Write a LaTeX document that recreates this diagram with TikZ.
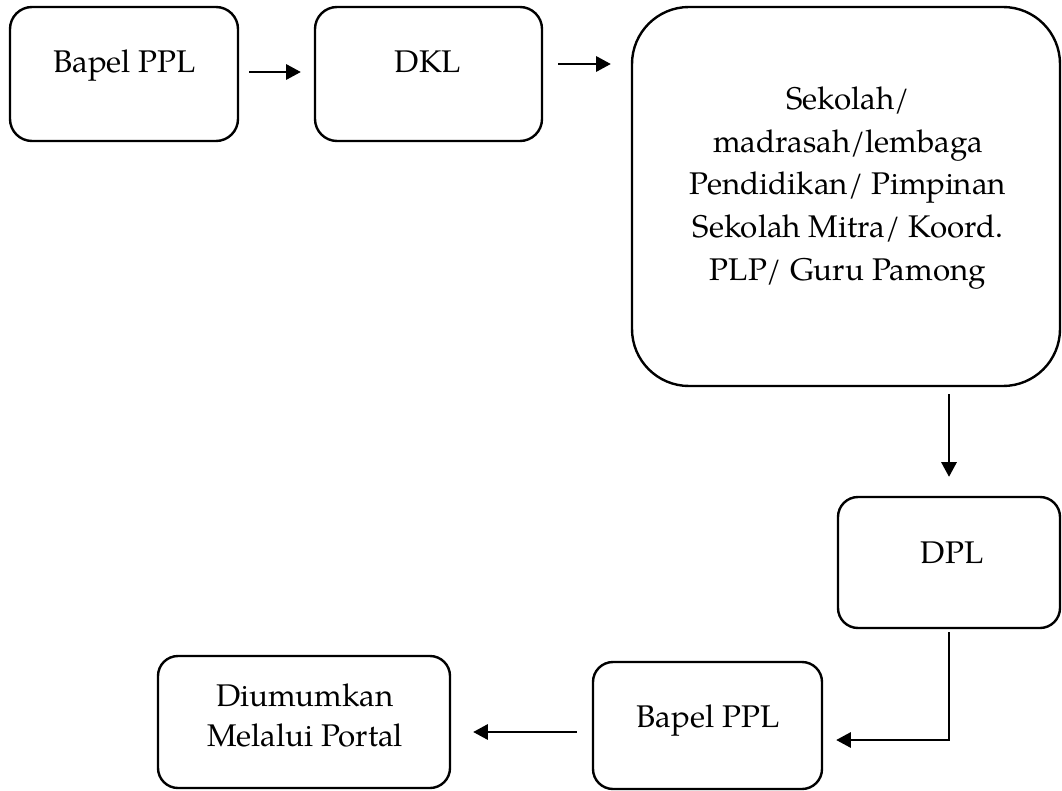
\documentclass[tikz,border=0pt]{standalone}
\usepackage{fontspec}
\setmainfont{TeX Gyre Pagella}
\usetikzlibrary{arrows.meta,calc}
\begin{document}
\begin{tikzpicture}[x=0.75pt,y=-0.75pt,
  box/.style={draw, line width=1.8pt, inner sep=0pt},
  arr/.style={line width=1.5pt, -{Triangle[length=11pt,width=11.5pt]}},
  lbl/.style={font=\fontsize{23.5}{31.9}\selectfont, align=center, inner sep=0pt}]
\useasboundingbox (0,0) rectangle (1062,791);
% boxes
\node[box, rounded corners=16.5pt, minimum width=171pt, minimum height=100.5pt] (b1) at (124,74) {};
\node[box, rounded corners=16.5pt, minimum width=170.25pt, minimum height=100.5pt] (b2) at (428.5,74) {};
\node[box, rounded corners=42.75pt, minimum width=321pt, minimum height=284.25pt] (big) at (846,196.5) {};
\node[box, rounded corners=15pt, minimum width=166.5pt, minimum height=98.25pt] (dpl) at (949,562.5) {};
\node[box, rounded corners=15pt, minimum width=171.75pt, minimum height=95.25pt] (bp2) at (707.5,725.5) {};
\node[box, rounded corners=15pt, minimum width=219pt, minimum height=99pt] (dium) at (304,722) {};
% texts
\node[lbl, anchor=base] (t1) at (124.5,73) {Bapel PPL};
\node[lbl, anchor=base] (t2) at (428,73) {DKL};
\node[lbl] (t3) at (848,188) {Sekolah/\\madrasah/lembaga\\Pendidikan/ Pimpinan\\Sekolah Mitra/ Koord.\\PLP/ Guru Pamong};
\node[lbl, anchor=base] (t4) at (952,563) {DPL};
\node[lbl, anchor=base] (t5) at (708,727) {Bapel PPL};
\node[lbl, font=\fontsize{23.5}{30}\selectfont] (t6) at (305,715) {Diumumkan\\Melalui Portal};
% connectors
\draw[arr] ([shift={(10,-2)}]b1.east) -- ([shift={(-13,-2)}]b2.west);
\draw[arr] ([shift={(15,-10)}]b2.east) coordinate (a2s) -- ([xshift=-15pt]big.west |- a2s);
\draw[arr] ([yshift=-5.25pt]big.south -| dpl.north) -- ([yshift=14.25pt]dpl.north);
\draw[arr] ([yshift=-2.25pt]dpl.south) |- ([shift={(13,14.5)}]bp2.east);
\draw[arr] ([shift={(-15,6.5)}]bp2.west) -- ([shift={(22,10)}]dium.east);
\end{tikzpicture}
\end{document}
